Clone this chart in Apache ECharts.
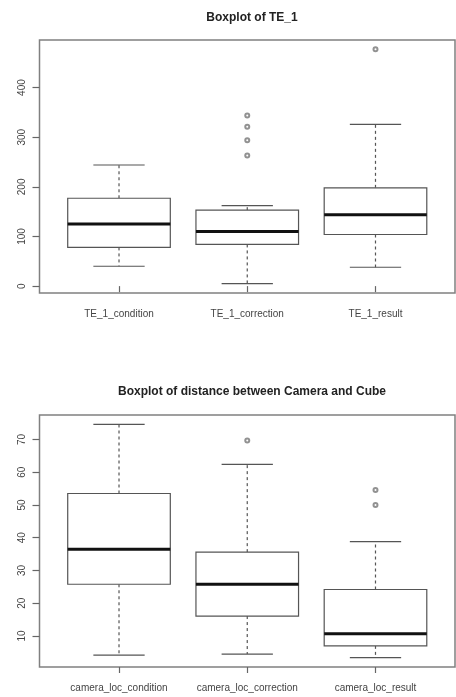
<!DOCTYPE html>
<html>
<head>
<meta charset="utf-8">
<script src="https://cdn.jsdelivr.net/npm/echarts@6/dist/echarts.min.js"></script>
<style>
html,body{margin:0;padding:0;background:#fff;}
#chart{width:456px;height:697px;}
</style>
</head>
<body>
<div id="chart"></div>
<script>
// ---- Data ----
const te1Categories = ['TE_1_condition', 'TE_1_correction', 'TE_1_result'];
// [lower whisker, Q1, median, Q3, upper whisker]
const te1Stats = [
  [40, 78, 125, 177, 244],
  [5, 84, 110, 153, 162],
  [38, 104, 144, 198, 326]
];
// [category index, value]
const te1Outliers = [[1, 263], [1, 294], [1, 321], [1, 344], [2, 477]];
const te1Ticks = [0, 100, 200, 300, 400];

const camCategories = ['camera_loc_condition', 'camera_loc_correction', 'camera_loc_result'];
const camStats = [
  [4.2, 25.8, 36.5, 53.5, 74.6],
  [4.5, 16.1, 25.8, 35.6, 62.4],
  [3.4, 7.0, 10.7, 24.2, 38.8]
];
const camOutliers = [[1, 69.7], [2, 50.0], [2, 54.6]];
const camTicks = [10, 20, 30, 40, 50, 60, 70];

const titles = ['Boxplot of TE_1', 'Boxplot of distance between Camera and Cube'];

// ---- Helpers ----
const FONT = '"Liberation Sans", Arial, sans-serif';
const catPositions = [1, 2, 3];

function rangeOf(stats, outliers) {
  let lo = Infinity, hi = -Infinity;
  stats.forEach(s => s.forEach(v => { lo = Math.min(lo, v); hi = Math.max(hi, v); }));
  outliers.forEach(o => { lo = Math.min(lo, o[1]); hi = Math.max(hi, o[1]); });
  const pad = (hi - lo) * 0.04;
  return [lo - pad, hi + pad];
}

function renderBox(params, api) {
  const x = api.value(0);
  const pMin = api.coord([x, api.value(1)]);
  const pQ1 = api.coord([x, api.value(2)]);
  const pMed = api.coord([x, api.value(3)]);
  const pQ3 = api.coord([x, api.value(4)]);
  const pMax = api.coord([x, api.value(5)]);
  const boxW = api.size([0.8, 0])[0];
  const capW = boxW / 2;
  const cx = pMed[0];
  const stroke = '#555';
  return {
    type: 'group',
    children: [
      { type: 'line', shape: { x1: cx, y1: pQ3[1], x2: cx, y2: pMax[1] },
        style: { stroke: stroke, lineWidth: 1.2, lineDash: [3, 3] } },
      { type: 'line', shape: { x1: cx, y1: pQ1[1], x2: cx, y2: pMin[1] },
        style: { stroke: stroke, lineWidth: 1.2, lineDash: [3, 3] } },
      { type: 'line', shape: { x1: cx - capW / 2, y1: pMax[1], x2: cx + capW / 2, y2: pMax[1] },
        style: { stroke: stroke, lineWidth: 1.2 } },
      { type: 'line', shape: { x1: cx - capW / 2, y1: pMin[1], x2: cx + capW / 2, y2: pMin[1] },
        style: { stroke: stroke, lineWidth: 1.2 } },
      { type: 'rect', shape: { x: cx - boxW / 2, y: pQ3[1], width: boxW, height: pQ1[1] - pQ3[1] },
        style: { fill: '#fff', stroke: stroke, lineWidth: 1.2 } },
      { type: 'line', shape: { x1: cx - boxW / 2, y1: pMed[1], x2: cx + boxW / 2, y2: pMed[1] },
        style: { stroke: '#111', lineWidth: 3 } }
    ]
  };
}

const panels = [
  { cats: te1Categories, stats: te1Stats, outs: te1Outliers, ticks: te1Ticks, top: 40, height: 253, titleTop: 7, labelMargin: 16 },
  { cats: camCategories, stats: camStats, outs: camOutliers, ticks: camTicks, top: 415, height: 252, titleTop: 381, labelMargin: 16 }
];

const option = {
  animation: false,
  backgroundColor: '#fff',
  title: [],
  grid: [],
  xAxis: [],
  yAxis: [],
  series: []
};

panels.forEach((p, i) => {
  const yr = rangeOf(p.stats, p.outs);
  option.title.push({
    text: titles[i],
    left: 247, top: p.titleTop, textAlign: 'center',
    textStyle: { fontFamily: FONT, fontSize: 12, fontWeight: 'bold', color: '#222' }
  });
  option.grid.push({
    left: 39.5, right: 1, top: p.top, height: p.height,
    show: true, borderColor: '#808080', borderWidth: 1.5, backgroundColor: 'transparent'
  });
  option.xAxis.push({
    type: 'value', gridIndex: i, min: 0.38, max: 3.62,
    axisLine: { show: false },
    splitLine: { show: false },
    axisTick: { show: true, customValues: catPositions, length: 6, lineStyle: { color: '#666', width: 1.2 } },
    axisLabel: {
      customValues: catPositions, margin: p.labelMargin,
      fontFamily: FONT, fontSize: 10, color: '#444',
      formatter: v => p.cats[Math.round(v) - 1]
    }
  });
  option.yAxis.push({
    type: 'value', gridIndex: i, min: yr[0], max: yr[1],
    axisLine: { show: false },
    splitLine: { show: false },
    axisTick: { show: true, customValues: p.ticks, length: 7, lineStyle: { color: '#666', width: 1.2 } },
    axisLabel: {
      customValues: p.ticks, rotate: 90, margin: 12,
      fontFamily: FONT, fontSize: 10, color: '#444'
    }
  });
  option.series.push({
    type: 'custom', xAxisIndex: i, yAxisIndex: i,
    renderItem: renderBox,
    encode: { x: 0, y: [1, 2, 3, 4, 5] },
    data: p.stats.map((s, k) => [catPositions[k]].concat(s)),
    z: 2
  });
  option.series.push({
    type: 'scatter', xAxisIndex: i, yAxisIndex: i,
    symbol: 'emptyCircle', symbolSize: 4,
    itemStyle: { color: '#777', borderColor: '#777', borderWidth: 1.2 },
    data: p.outs.map(o => [catPositions[o[0]], o[1]]),
    z: 3
  });
});

const chart = echarts.init(document.getElementById('chart'), null, { renderer: 'canvas' });
chart.setOption(option);
</script>
</body>
</html>
